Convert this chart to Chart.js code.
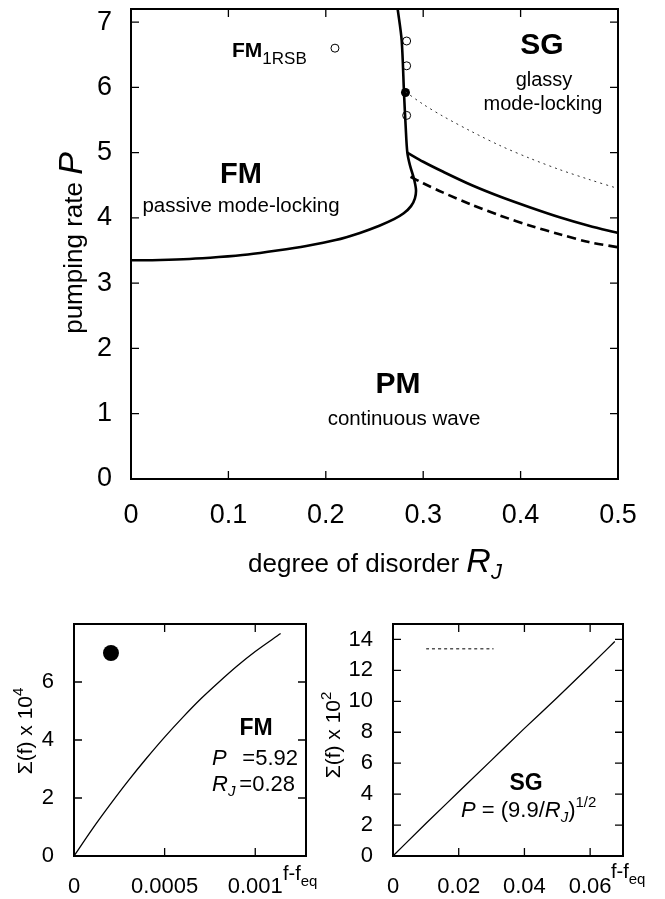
<!DOCTYPE html>
<html>
<head>
<meta charset="utf-8">
<script src="https://cdn.jsdelivr.net/npm/chart.js@4.4.1/dist/chart.umd.min.js"></script>
<style>
html, body { margin: 0; padding: 0; background: #fff; }
body { width: 665px; height: 899px; position: relative; overflow: hidden; }
canvas { position: absolute; }
#phase { left: 0; top: 0; }
#fmPanel { left: 0; top: 600px; }
#sgPanel { left: 315px; top: 600px; }
</style>
</head>
<body>
<canvas id="phase" width="665" height="600"></canvas>
<canvas id="fmPanel" width="335" height="299"></canvas>
<canvas id="sgPanel" width="350" height="299"></canvas>
<script>
const FONT = "'Liberation Sans', Arial, sans-serif";

// phase diagram: degree of disorder R_J vs pumping rate P
const phaseXTicks = [0, 0.1, 0.2, 0.3, 0.4, 0.5];
const phaseXLabels = ["0", "0.1", "0.2", "0.3", "0.4", "0.5"];
const phaseYTicks = [0, 1, 2, 3, 4, 5, 6, 7];
const phaseYLabels = ["0", "1", "2", "3", "4", "5", "6", "7"];

// FM / PM boundary, continuing up as FM / SG boundary
const fmLineR = [0, 0.03, 0.06, 0.09, 0.12, 0.15, 0.18, 0.21, 0.235, 0.255, 0.27, 0.28, 0.2875, 0.2915, 0.2926, 0.2905, 0.2865, 0.2837, 0.282, 0.2803, 0.2779, 0.2738];
const fmLineP = [3.35, 3.355, 3.37, 3.40, 3.44, 3.50, 3.57, 3.66, 3.77, 3.88, 3.98, 4.07, 4.18, 4.30, 4.43, 4.60, 4.80, 5.00, 5.40, 5.91, 6.72, 7.2];
// SG / PM boundary (solid)
const sgLineR = [0.2837, 0.30, 0.32, 0.35, 0.38, 0.41, 0.44, 0.47, 0.5];
const sgLineP = [5.00, 4.86, 4.71, 4.50, 4.32, 4.16, 4.01, 3.88, 3.77];
// dashed line below it
const sgDashR = [0.287, 0.30, 0.32, 0.35, 0.38, 0.41, 0.44, 0.47, 0.5];
const sgDashP = [4.63, 4.53, 4.39, 4.20, 4.03, 3.88, 3.75, 3.63, 3.55];
// thin dotted line from the filled point
const sgDotR = [0.2818, 0.30, 0.32, 0.35, 0.38, 0.41, 0.44, 0.47, 0.5];
const sgDotP = [5.93, 5.74, 5.56, 5.32, 5.10, 4.91, 4.74, 4.59, 4.45];
// simulation points
const openR = [0.2094, 0.283, 0.283, 0.283];
const openP = [6.60, 6.71, 6.33, 5.57];
const filledR = [0.2818];
const filledP = [5.92];

// lower left panel: complexity in FM phase
const fmXTicks = [0, 0.0005, 0.001];
const fmXLabels = ["0", "0.0005", "0.001"];
const fmYTicks = [0, 2, 4, 6];
const fmYLabels = ["0", "2", "4", "6"];
const fmSigmaX = [0, 0.0001, 0.0002, 0.0003, 0.0004, 0.0005, 0.0006, 0.0007, 0.0008, 0.0009, 0.001, 0.00114];
const fmSigmaY = [0, 0.92, 1.78, 2.6, 3.37, 4.1, 4.78, 5.42, 6.0, 6.55, 7.05, 7.67];
const fmDotX = [0.000204];
const fmDotY = [7.0];

// lower right panel: complexity in SG phase
const sgXTicks = [0, 0.02, 0.04, 0.06];
const sgXLabels = ["0", "0.02", "0.04", "0.06"];
const sgYTicks = [0, 2, 4, 6, 8, 10, 12, 14];
const sgYLabels = ["0", "2", "4", "6", "8", "10", "12", "14"];
const sgSigmaX = [0, 0.01, 0.02, 0.03, 0.04, 0.05, 0.06, 0.0675];
const sgSigmaY = [0, 2.1, 4.15, 6.2, 8.25, 10.25, 12.3, 13.87];
const sgLevelX = [0.0101, 0.0306];
const sgLevelY = [13.4, 13.4];

function pts(xs, ys) {
    return xs.map((v, i) => ({ x: v, y: ys[i] }));
}

// draw a row of text pieces: [text, font, dy]
function runs(ctx, x, y, parts, align) {
    let w = 0;
    parts.forEach(p => { ctx.font = p[1]; w += ctx.measureText(p[0]).width; });
    let cx = align === "center" ? x - w / 2 : (align === "right" ? x - w : x);
    ctx.textAlign = "left";
    ctx.textBaseline = "alphabetic";
    parts.forEach(p => {
        ctx.font = p[1];
        ctx.fillText(p[0], cx, y + (p[2] || 0));
        cx += ctx.measureText(p[0]).width;
    });
}

// box frame with inward ticks on all four sides
function frameTicks(tickLen, frameW) {
    return {
        id: "frameTicks",
        afterDatasetsDraw(chart) {
            const { ctx, chartArea: a, scales: { x, y } } = chart;
            ctx.save();
            ctx.strokeStyle = "#000";
            ctx.lineWidth = 1.3;
            ctx.beginPath();
            x.ticks.forEach(t => {
                const px = x.getPixelForValue(t.value);
                if (px < a.left + 2 || px > a.right - 2) return;
                ctx.moveTo(px, a.bottom); ctx.lineTo(px, a.bottom - tickLen);
                ctx.moveTo(px, a.top); ctx.lineTo(px, a.top + tickLen);
            });
            y.ticks.forEach(t => {
                const py = y.getPixelForValue(t.value);
                if (py < a.top + 2 || py > a.bottom - 2) return;
                ctx.moveTo(a.left, py); ctx.lineTo(a.left + tickLen, py);
                ctx.moveTo(a.right, py); ctx.lineTo(a.right - tickLen, py);
            });
            ctx.stroke();
            ctx.lineWidth = frameW;
            ctx.strokeRect(a.left, a.top, a.right - a.left, a.bottom - a.top);
            ctx.restore();
        }
    };
}

function axis(min, max, ticks, labels, size, fontSize, pad) {
    return {
        type: "linear", min: min, max: max,
        grid: { display: false, drawTicks: false }, border: { display: false },
        afterBuildTicks: s => { s.ticks = ticks.map(v => ({ value: v })); },
        afterFit: s => {
            if (s.isHorizontal()) s.height = size; else s.width = size;
            s.paddingTop = 0; s.paddingBottom = 0; s.paddingLeft = 0; s.paddingRight = 0;
        },
        ticks: {
            color: "#000", padding: pad, autoSkip: false, maxRotation: 0,
            font: { family: FONT, size: fontSize },
            callback: v => labels[ticks.indexOf(v)] ?? ""
        }
    };
}

function line(data, width, dash, color, mode) {
    return {
        data: data, showLine: true, borderColor: color || "#000", borderWidth: width,
        borderDash: dash || [], pointRadius: 0, tension: 0.3, fill: false,
        cubicInterpolationMode: mode || "default"
    };
}

const baseOptions = {
    responsive: false, animation: false,
    plugins: { legend: { display: false }, tooltip: { enabled: false } }
};

// ---------- phase diagram ----------
const phaseText = {
    id: "phaseText",
    afterDraw(chart) {
        const ctx = chart.ctx;
        ctx.save();
        ctx.fillStyle = "#000";
        runs(ctx, 232, 57, [["FM", "bold 21px " + FONT], ["1RSB", "17px " + FONT, 7]], "left");
        runs(ctx, 542, 54, [["SG", "bold 30px " + FONT]], "center");
        runs(ctx, 544, 86, [["glassy", "20px " + FONT]], "center");
        runs(ctx, 543, 110, [["mode-locking", "20px " + FONT]], "center");
        runs(ctx, 241, 183, [["FM", "bold 29px " + FONT]], "center");
        runs(ctx, 241, 212, [["passive mode-locking", "20.5px " + FONT]], "center");
        runs(ctx, 398, 393, [["PM", "bold 30px " + FONT]], "center");
        runs(ctx, 404, 425, [["continuous wave", "20.5px " + FONT]], "center");
        runs(ctx, 375, 572, [["degree of disorder ", "26px " + FONT], ["R", "italic 34px " + FONT], ["J", "italic 22px " + FONT, 7]], "center");
        ctx.translate(82, 243);
        ctx.rotate(-Math.PI / 2);
        runs(ctx, 0, 0, [["pumping rate ", "26px " + FONT], ["P", "italic 34px " + FONT]], "center");
        ctx.restore();
    }
};

new Chart(document.getElementById("phase"), {
    type: "scatter",
    data: {
        datasets: [
            line(pts(fmLineR, fmLineP), 2.6),
            line(pts(sgLineR, sgLineP), 2.6),
            line(pts(sgDashR, sgDashP), 2.6, [9, 5]),
            line(pts(sgDotR, sgDotP), 1, [2, 4], "#333"),
            { data: pts(openR, openP), pointRadius: 4, pointBorderWidth: 1, pointBorderColor: "#000", pointBackgroundColor: "#fff" },
            { data: pts(openR, openP), pointRadius: 0.9, pointBorderWidth: 0, pointBackgroundColor: "#000" },
            { data: pts(filledR, filledP), pointRadius: 4.5, pointBorderWidth: 0, pointBackgroundColor: "#000" }
        ]
    },
    options: Object.assign({}, baseOptions, {
        layout: { padding: { left: 0, top: 9, right: 47, bottom: 0 } },
        scales: {
            x: axis(0, 0.5, phaseXTicks, phaseXLabels, 121, 27, 20),
            y: axis(0, 7.2, phaseYTicks, phaseYLabels, 131, 27, 19)
        }
    }),
    plugins: [frameTicks(8, 2), phaseText]
});

// ---------- FM complexity panel ----------
const fmText = {
    id: "fmText",
    afterDraw(chart) {
        const ctx = chart.ctx;
        ctx.save();
        ctx.fillStyle = "#000";
        runs(ctx, 256, 135, [["FM", "bold 23px " + FONT]], "center");
        runs(ctx, 212, 165, [["P", "italic 22px " + FONT]], "left");
        runs(ctx, 298, 165, [["=5.92", "22px " + FONT]], "right");
        runs(ctx, 212, 191, [["R", "italic 22px " + FONT], ["J", "italic 15px " + FONT, 5]], "left");
        runs(ctx, 295, 191, [["=0.28", "22px " + FONT]], "right");
        runs(ctx, 283, 280, [["f-f", "20px " + FONT], ["eq", "15px " + FONT, 6]], "left");
        ctx.translate(32, 131);
        ctx.rotate(-Math.PI / 2);
        runs(ctx, 0, 0, [["\u03A3(f) x 10", "21px " + FONT], ["4", "15px " + FONT, -9]], "center");
        ctx.restore();
    }
};

new Chart(document.getElementById("fmPanel"), {
    type: "scatter",
    data: {
        datasets: [
            line(pts(fmSigmaX, fmSigmaY), 1.3, null, null, "monotone"),
            { data: pts(fmDotX, fmDotY), pointRadius: 8, pointBorderWidth: 0, pointBackgroundColor: "#000" }
        ]
    },
    options: Object.assign({}, baseOptions, {
        layout: { padding: { left: 0, top: 24, right: 29, bottom: 0 } },
        scales: {
            x: axis(0, 0.00128, fmXTicks, fmXLabels, 43, 22, 18),
            y: axis(0, 8, fmYTicks, fmYLabels, 74, 22, 20)
        }
    }),
    plugins: [frameTicks(8, 2), fmText]
});

// ---------- SG complexity panel ----------
const sgText = {
    id: "sgText",
    afterDraw(chart) {
        const ctx = chart.ctx;
        ctx.save();
        ctx.fillStyle = "#000";
        runs(ctx, 211, 190, [["SG", "bold 23px " + FONT]], "center");
        runs(ctx, 146, 217, [
            ["P", "italic 22px " + FONT], [" = (9.9/", "22px " + FONT],
            ["R", "italic 22px " + FONT], ["J", "italic 15px " + FONT, 5],
            [")", "22px " + FONT], ["1/2", "15px " + FONT, -10]
        ], "left");
        runs(ctx, 296, 278, [["f-f", "20px " + FONT], ["eq", "15px " + FONT, 6]], "left");
        ctx.translate(25, 135);
        ctx.rotate(-Math.PI / 2);
        runs(ctx, 0, 0, [["\u03A3(f) x 10", "21px " + FONT], ["2", "15px " + FONT, -9]], "center");
        ctx.restore();
    }
};

new Chart(document.getElementById("sgPanel"), {
    type: "scatter",
    data: {
        datasets: [
            line(pts(sgSigmaX, sgSigmaY), 1.3, null, null, "monotone"),
            line(pts(sgLevelX, sgLevelY), 1.3, [3, 3], "#555")
        ]
    },
    options: Object.assign({}, baseOptions, {
        layout: { padding: { left: 0, top: 24, right: 42, bottom: 0 } },
        scales: {
            x: axis(0, 0.07, sgXTicks, sgXLabels, 43, 22, 18),
            y: axis(0, 15, sgYTicks, sgYLabels, 78, 22, 20)
        }
    }),
    plugins: [frameTicks(8, 2), sgText]
});
</script>
</body>
</html>
